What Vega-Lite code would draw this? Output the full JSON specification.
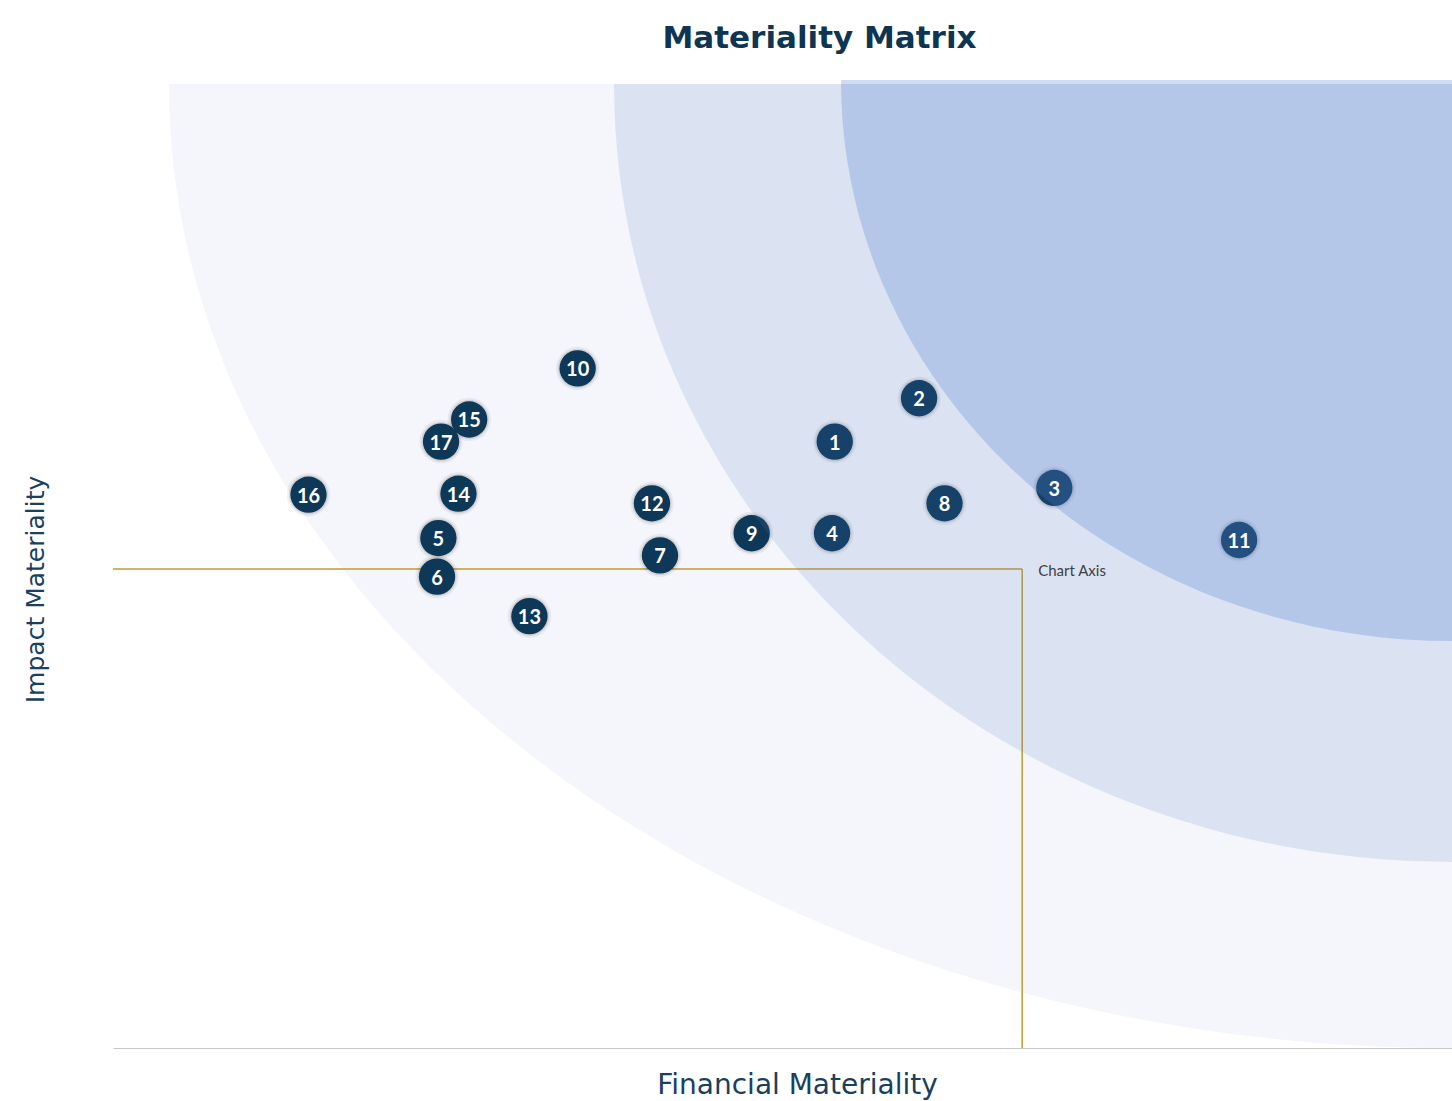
{
  "$schema": "https://vega.github.io/schema/vega-lite/v6.json",
  "autosize": {"type": "none"},
  "padding": {"left": 113, "top": 84, "right": 0, "bottom": 53},
  "width": 1339,
  "height": 964,
  "background": "white",
  "title": {
    "text": "Materiality Matrix",
    "anchor": "middle",
    "frame": "group",
    "dx": 37,
    "dy": 37,
    "offset": 38,
    "baseline": "alphabetic",
    "font": "DejaVu Sans",
    "fontSize": 31,
    "fontWeight": "bold",
    "color": "#0e3552"
  },
  "config": {
    "view": {"stroke": null},
    "axisX": {
      "domain": true, "domainColor": "#c8c8c8", "domainWidth": 1.2,
      "ticks": false, "labels": false, "grid": false,
      "titleFont": "DejaVu Sans", "titleFontSize": 28, "titleFontWeight": "normal", "titleColor": "#1a4060",
      "titleX": 684, "titleY": 45, "titleAlign": "center", "titleBaseline": "alphabetic", "titleAnchor": null
    },
    "axisY": {
      "domain": false, "ticks": false, "labels": false, "grid": false,
      "titleFont": "DejaVu Sans", "titleFontSize": 25, "titleFontWeight": "normal", "titleColor": "#1a4060",
      "titleX": -78, "titleY": 505, "titleAngle": -90, "titleAlign": "center", "titleBaseline": "middle"
    }
  },
  "datasets": {
    "issues": [
      {"id": "1", "fin": 5.39, "imp": 6.29},
      {"id": "2", "fin": 6.02, "imp": 6.74},
      {"id": "3", "fin": 7.03, "imp": 5.81},
      {"id": "4", "fin": 5.37, "imp": 5.34},
      {"id": "5", "fin": 2.43, "imp": 5.29},
      {"id": "6", "fin": 2.42, "imp": 4.89},
      {"id": "7", "fin": 4.085, "imp": 5.11},
      {"id": "8", "fin": 6.21, "imp": 5.65},
      {"id": "9", "fin": 4.77, "imp": 5.34},
      {"id": "10", "fin": 3.47, "imp": 7.05},
      {"id": "11", "fin": 8.41, "imp": 5.27},
      {"id": "12", "fin": 4.025, "imp": 5.65},
      {"id": "13", "fin": 3.11, "imp": 4.48},
      {"id": "14", "fin": 2.58, "imp": 5.75},
      {"id": "15", "fin": 2.66, "imp": 6.52},
      {"id": "16", "fin": 1.46, "imp": 5.74},
      {"id": "17", "fin": 2.45, "imp": 6.29}
    ],
    "zones": [
      {"zone": "Low", "fin": 10, "imp": 10},
      {"zone": "Medium", "fin": 10, "imp": 10},
      {"zone": "High", "fin": 10, "imp": 10}
    ],
    "cross": [
      {"fin0": 0, "fin": 6.79, "imp0": 0, "imp": 4.97, "label": "Chart Axis"}
    ]
  },
  "layer": [
    {
      "data": {"name": "zones"},
      "transform": [{"filter": "datum.zone === 'Low'"}],
      "mark": {"type": "point", "filled": true, "size": 40000, "color": "#f5f6fb", "opacity": 1, "strokeWidth": 0,
        "shape": "M0,0 L-12.83,0 C-12.83,5.324 -7.086,9.64 0,9.64 Z"},
      "encoding": {
        "x": {"field": "fin", "type": "quantitative", "scale": {"domain": [0, 10], "nice": false, "zero": false}, "title": "Financial Materiality"},
        "y": {"field": "imp", "type": "quantitative", "scale": {"domain": [0, 10], "nice": false, "zero": false}, "title": "Impact Materiality"}
      }
    },
    {
      "data": {"name": "cross"},
      "mark": {"type": "rule", "color": "#bf9b30", "strokeWidth": 1.5},
      "encoding": {
        "x": {"field": "fin0", "type": "quantitative", "title": "Financial Materiality"},
        "x2": {"field": "fin"},
        "y": {"field": "imp", "type": "quantitative", "title": "Impact Materiality"}
      }
    },
    {
      "data": {"name": "cross"},
      "mark": {"type": "rule", "color": "#bf9b30", "strokeWidth": 1.5},
      "encoding": {
        "x": {"field": "fin", "type": "quantitative", "title": "Financial Materiality"},
        "y": {"field": "imp0", "type": "quantitative", "title": "Impact Materiality"},
        "y2": {"field": "imp"}
      }
    },
    {
      "data": {"name": "issues"},
      "mark": {"type": "circle", "size": 1900, "color": "#000000", "opacity": 0.05},
      "encoding": {
        "x": {"field": "fin", "type": "quantitative", "title": "Financial Materiality"},
        "y": {"field": "imp", "type": "quantitative", "title": "Impact Materiality"}
      }
    },
    {
      "data": {"name": "issues"},
      "mark": {"type": "circle", "size": 1560, "color": "#000000", "opacity": 0.1},
      "encoding": {
        "x": {"field": "fin", "type": "quantitative", "title": "Financial Materiality"},
        "y": {"field": "imp", "type": "quantitative", "title": "Impact Materiality"}
      }
    },
    {
      "data": {"name": "issues"},
      "mark": {"type": "circle", "size": 1320, "color": "#0d3858", "opacity": 1},
      "encoding": {
        "x": {"field": "fin", "type": "quantitative", "title": "Financial Materiality"},
        "y": {"field": "imp", "type": "quantitative", "title": "Impact Materiality"}
      }
    },
    {
      "data": {"name": "zones"},
      "transform": [{"filter": "datum.zone === 'Medium'"}],
      "mark": {"type": "point", "filled": true, "size": 40000, "color": "#4a78c8", "opacity": 0.15, "strokeWidth": 0,
        "shape": "M0,0 L-8.38,0 C-8.38,4.297 -4.628,7.78 0,7.78 Z"},
      "encoding": {
        "x": {"field": "fin", "type": "quantitative", "title": "Financial Materiality"},
        "y": {"field": "imp", "type": "quantitative", "title": "Impact Materiality"}
      }
    },
    {
      "data": {"name": "zones"},
      "transform": [{"filter": "datum.zone === 'High'"}],
      "mark": {"type": "point", "filled": true, "size": 40000, "color": "#4a78c8", "opacity": 0.26, "strokeWidth": 0,
        "shape": "M0,-0.04 L-6.11,-0.04 C-6.11,3.058 -3.375,5.57 0,5.57 Z"},
      "encoding": {
        "x": {"field": "fin", "type": "quantitative", "title": "Financial Materiality"},
        "y": {"field": "imp", "type": "quantitative", "title": "Impact Materiality"}
      }
    },
    {
      "data": {"name": "issues"},
      "mark": {"type": "text", "font": "Lato", "fontSize": 20, "fontWeight": "bold", "color": "#ffffff", "align": "center", "baseline": "middle", "dy": 2},
      "encoding": {
        "x": {"field": "fin", "type": "quantitative", "title": "Financial Materiality"},
        "y": {"field": "imp", "type": "quantitative", "title": "Impact Materiality"},
        "text": {"field": "id"}
      }
    },
    {
      "data": {"name": "cross"},
      "mark": {"type": "text", "font": "Lato", "fontSize": 15, "color": "#404040", "align": "left", "baseline": "middle", "dx": 16, "dy": 2},
      "encoding": {
        "x": {"field": "fin", "type": "quantitative", "title": "Financial Materiality"},
        "y": {"field": "imp", "type": "quantitative", "title": "Impact Materiality"},
        "text": {"field": "label"}
      }
    }
  ]
}
